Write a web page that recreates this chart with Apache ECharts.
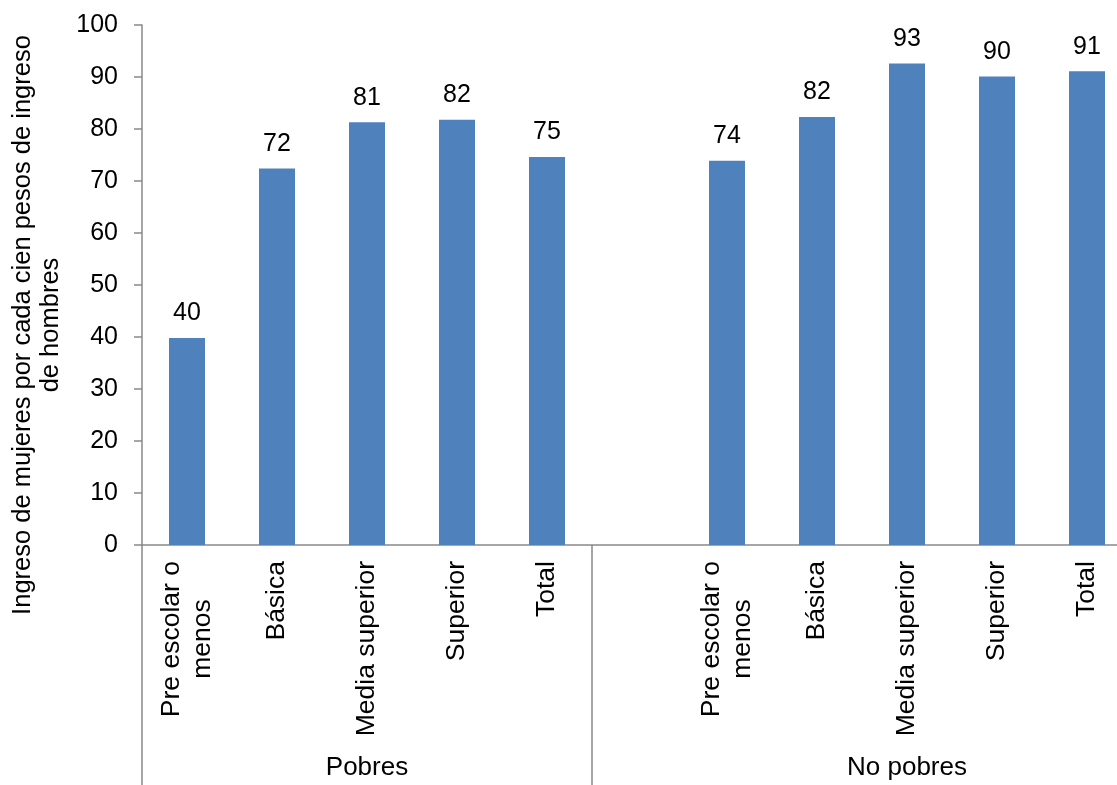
<!DOCTYPE html>
<html>
<head>
<meta charset="utf-8">
<script src="https://cdn.jsdelivr.net/npm/echarts@6/dist/echarts.min.js"></script>
<style>
  html, body { margin: 0; padding: 0; background: #fff; }
  #chart { width: 1117px; height: 785px; }
</style>
</head>
<body>
<div id="chart"></div>
<script>
// categories: Pobres group, one empty spacer slot, then No pobres group
var categories = ['Pre escolar o\nmenos', 'Básica', 'Media superior', 'Superior', 'Total', '',
                  'Pre escolar o\nmenos', 'Básica', 'Media superior', 'Superior', 'Total']
var values = [39.8, 72.4, 81.3, 81.8, 74.6, null, 73.9, 82.3, 92.6, 90.1, 91.1]
var groups = ['Pobres', 'No pobres']
var groupCenters = [2.5, 8.5]   // position of each group name, in category units
var groupStarts = [0, 5]        // category index where a group border line is drawn
var yMin = 0, yMax = 100, yStep = 10

var FONT = '"Liberation Sans", Arial, sans-serif'
var GRAY = '#898989'

var chart = echarts.init(document.getElementById('chart'))

chart.setOption({
  animation: false,
  grid: {
    left: 142,
    top: 25,
    width: 990,   // the original plot runs past the right edge of the picture
    bottom: 240,
    outerBoundsMode: 'none',
    containLabel: false
  },
  xAxis: [{
    type: 'category',
    data: categories,
    axisLine: { lineStyle: { color: GRAY, width: 1.5 } },
    axisTick: {
      show: true,
      length: 240,
      interval: function (i) { return groupStarts.indexOf(i) >= 0 },
      lineStyle: { color: GRAY, width: 1.5 }
    },
    axisLabel: {
      interval: 0,
      rotate: 90,
      margin: 16,
      formatter: function (v) {
        return v.split('\n').map(function (s) { return '{c|' + s + '}' }).join('\n')
      },
      rich: {
        c: { fontFamily: FONT, fontSize: 26.5, color: '#000', align: 'center', lineHeight: 31 }
      }
    }
  }, {
    // group names under the category labels
    type: 'value',
    position: 'bottom',
    offset: 204,
    min: 0,
    max: categories.length,
    interval: 0.5,
    axisLine: { show: false },
    axisTick: { show: false },
    splitLine: { show: false },
    axisLabel: {
      margin: 6,
      fontFamily: FONT,
      fontSize: 26,
      color: '#000',
      formatter: function (v) {
        for (var i = 0; i < groups.length; i++) {
          if (Math.abs(v - groupCenters[i]) < 1e-6) return groups[i]
        }
        return ''
      }
    }
  }],
  yAxis: {
    type: 'value',
    min: yMin,
    max: yMax,
    interval: yStep,
    name: 'Ingreso de mujeres por cada cien pesos de ingreso\nde hombres',
    nameLocation: 'middle',
    nameGap: 74,
    nameTextStyle: {
      fontFamily: FONT,
      fontSize: 25.5,
      color: '#000',
      lineHeight: 28,
      padding: [0, 80, 0, 0]
    },
    axisLine: { show: true, lineStyle: { color: GRAY, width: 1.5 } },
    axisTick: { show: true, length: 8, lineStyle: { color: GRAY, width: 1.5 } },
    splitLine: { show: false },
    axisLabel: {
      margin: 24,
      fontFamily: FONT,
      fontSize: 25,
      color: '#000'
    }
  },
  series: [{
    type: 'bar',
    xAxisIndex: 0,
    data: values,
    barWidth: 36,
    itemStyle: { color: '#4F81BD' },
    label: {
      show: true,
      position: 'top',
      distance: 12,
      fontFamily: FONT,
      fontSize: 25,
      color: '#000',
      formatter: function (p) { return Math.round(p.value) }
    }
  }]
})
</script>
</body>
</html>
